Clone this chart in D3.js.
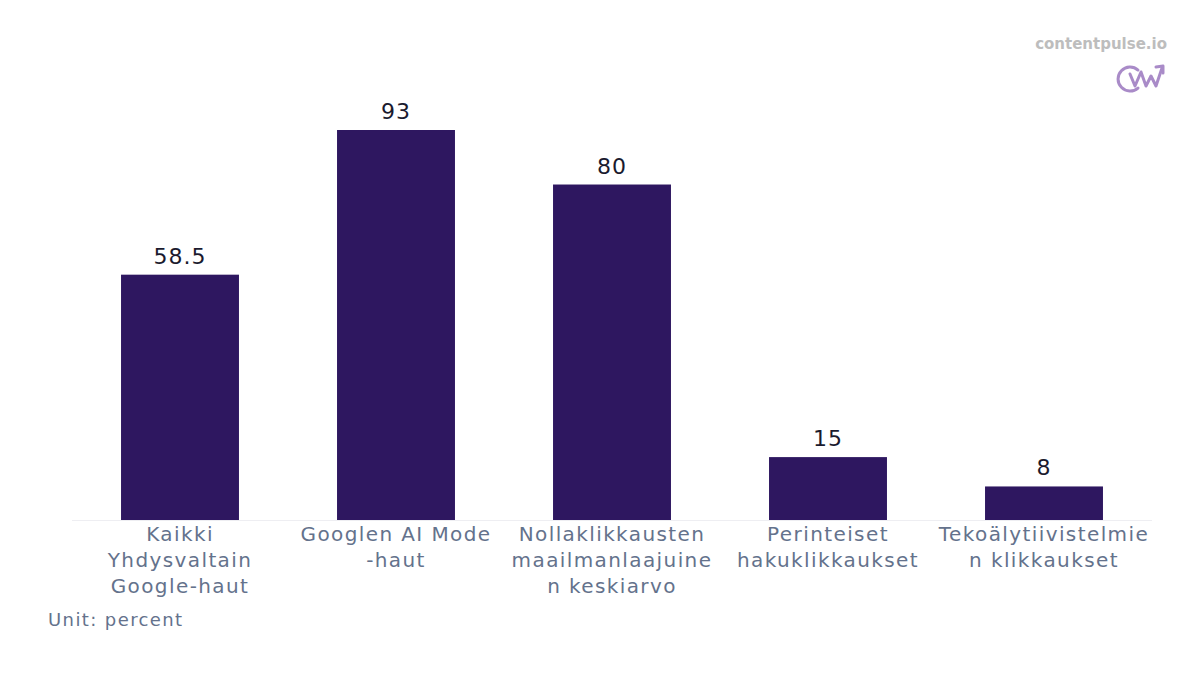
<!DOCTYPE html>
<html><head><meta charset="utf-8">
<script src="https://cdn.jsdelivr.net/npm/d3@7"></script>
<style>body{margin:0;background:#fff}</style>
</head><body>
<script>
const categories = [
  ["Kaikki", "Yhdysvaltain", "Google-haut"],
  ["Googlen AI Mode", "-haut"],
  ["Nollaklikkausten", "maailmanlaajuine", "n keskiarvo"],
  ["Perinteiset", "hakuklikkaukset"],
  ["Tekoälytiivistelmie", "n klikkaukset"]
]
const values = [58.5, 93, 80, 15, 8]
const valueLabels = ["58.5", "93", "80", "15", "8"]

const w = 1200, h = 675
const svg = d3.select('body').append('svg').attr('width', w).attr('height', h)
  .style('font-family', 'DejaVu Sans')

const x = d3.scaleBand().domain(d3.range(values.length)).range([72, 1152])
  .paddingInner(0.454).paddingOuter(0.227)
const y = d3.scaleLinear().domain([0, 93]).range([520, 130])

svg.append('line').attr('x1', 72).attr('x2', 1152).attr('y1', 520.5).attr('y2', 520.5)
  .attr('stroke', '#eeeef2')

svg.selectAll('rect.bar').data(values).enter().append('rect')
  .attr('class', 'bar')
  .attr('x', (d, i) => x(i))
  .attr('y', d => y(d))
  .attr('width', x.bandwidth())
  .attr('height', d => y(0) - y(d))
  .attr('fill', '#2e1760')

svg.selectAll('text.val').data(values).enter().append('text')
  .attr('x', (d, i) => x(i) + x.bandwidth() / 2)
  .attr('y', d => y(d) - 11)
  .attr('text-anchor', 'middle')
  .attr('font-size', 22)
  .attr('letter-spacing', 1)
  .attr('fill', '#1a1a2e')
  .text((d, i) => valueLabels[i])

categories.forEach((lines, i) => {
  const t = svg.append('text')
    .attr('x', x(i) + x.bandwidth() / 2)
    .attr('y', 541)
    .attr('text-anchor', 'middle')
    .attr('font-size', 20)
    .attr('letter-spacing', 1.4)
    .attr('fill', '#64728c')
  lines.forEach((l, j) => {
    t.append('tspan').attr('x', x(i) + x.bandwidth() / 2).attr('dy', j === 0 ? 0 : 26).text(l)
  })
})

svg.append('text').attr('x', 48).attr('y', 626).attr('font-size', 18)
  .attr('letter-spacing', 1.4)
  .attr('fill', '#64728c').text('Unit: percent')

svg.append('text').attr('x', 1167).attr('y', 49).attr('text-anchor', 'end')
  .attr('font-size', 15).attr('font-weight', 'bold').attr('fill', '#bdbdbd')
  .text('contentpulse.io')

const logo = svg.append('g').attr('transform', 'translate(1118,62)')
  .attr('fill', 'none').attr('stroke', '#a98bc8').attr('stroke-width', 3)
  .attr('stroke-linecap', 'round').attr('stroke-linejoin', 'round')
logo.append('path').attr('d', 'M20,8 A12,12 0 1 0 20,26')
logo.append('path').attr('d', 'M12,12 L17,24 L23,10 L28,24 L33,14 L38,24 L44,6')
logo.append('path').attr('d', 'M38,5 L45,4 L45,11')
</script>
</body></html>
